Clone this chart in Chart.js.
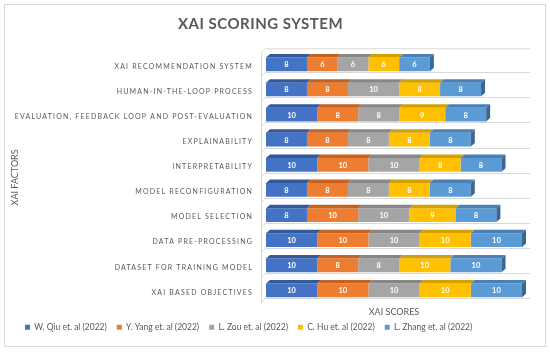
<!DOCTYPE html>
<html>
<head>
<meta charset="utf-8">
<script src="https://cdn.jsdelivr.net/npm/chart.js@4"></script>
<style>
  html, body { margin: 0; padding: 0; background: #ffffff; }
  #wrap { width: 550px; height: 352px; position: relative; }
</style>
</head>
<body>
<div id="wrap"><canvas id="c" width="550" height="352"></canvas></div>
<script>
const categories = [
  'XAI RECOMMENDATION SYSTEM',
  'HUMAN-IN-THE-LOOP PROCESS',
  'EVALUATION, FEEDBACK LOOP AND POST-EVALUATION',
  'EXPLAINABILITY',
  'INTERPRETABILITY',
  'MODEL RECONFIGURATION',
  'MODEL SELECTION',
  'DATA PRE-PROCESSING',
  'DATASET FOR TRAINING MODEL',
  'XAI BASED OBJECTIVES'
];
const seriesNames = [
  'W. Qiu et. al (2022)',
  'Y. Yang et. al (2022)',
  'L. Zou et. al (2022)',
  'C. Hu et. al (2022)',
  'L. Zhang et. al (2022)'
];
const qiu   = [8, 8, 10, 8, 10, 8, 8, 10, 10, 10];
const yang  = [6, 8, 8, 8, 10, 8, 10, 10, 8, 10];
const zou   = [6, 10, 8, 8, 10, 8, 10, 10, 8, 10];
const hu    = [6, 8, 9, 8, 8, 8, 9, 10, 10, 10];
const zhang = [6, 8, 8, 8, 8, 8, 8, 10, 10, 10];

const frontColors = ['#4472C4', '#ED7D31', '#A5A5A5', '#FFC000', '#5B9BD5'];
const topColors   = ['#34589C', '#C5621F', '#878787', '#D4A000', '#4A80B5'];
const sideColor   = '#3A6794';
const seriesData = [qiu, yang, zou, hu, zhang];

const DX = 4, DY = 3.5;
const GRID = '#D9D9D9';
const TXT = '#595959';

const frame3d = {
  id: 'frame3d',
  beforeDraw(chart) {
    const ctx = chart.ctx;
    ctx.save();
    ctx.fillStyle = '#ffffff';
    ctx.fillRect(0, 0, chart.width, chart.height);
    ctx.strokeStyle = GRID;
    ctx.lineWidth = 1;
    ctx.strokeRect(4.5, 4.5, 541, 342);
    ctx.restore();
  },
  afterLayout(chart) {
    const ys = chart.scales.y;
    if (ys && !ys._lsWrapped) {
      const orig = ys.drawLabels;
      ys.drawLabels = function (a) {
        const c = this.ctx;
        c.save();
        c.letterSpacing = '1.2px';
        orig.call(this, a);
        c.restore();
      };
      ys._lsWrapped = true;
    }
    const tb = chart.titleBlock;
    if (tb && !tb._lsWrapped) {
      const origT = tb.draw;
      tb.draw = function (a) {
        const c = this.ctx;
        c.save();
        c.letterSpacing = '0.5px';
        c.translate(-8, 0);
        origT.call(this, a);
        c.restore();
      };
      tb._lsWrapped = true;
    }
  },
  beforeDatasetsDraw(chart) {
    const ctx = chart.ctx;
    const area = chart.chartArea;
    const meta = chart.getDatasetMeta(0);
    const L = area.left - 4;
    const R = 530;
    ctx.save();
    ctx.strokeStyle = GRID;
    ctx.lineWidth = 1;
    ctx.beginPath();
    ctx.moveTo(L - 0.5, area.top + 0.5);
    ctx.lineTo(L + DX - 0.5, area.top - DY + 0.5);
    ctx.lineTo(R, area.top - DY + 0.5);
    ctx.moveTo(L - 0.5, area.top + 0.5);
    ctx.lineTo(L - 0.5, area.bottom + 0.5);
    ctx.stroke();
    meta.data.forEach((el) => {
      const yb = Math.round(el.y + el.height / 2) + 1.5;
      ctx.beginPath();
      ctx.moveTo(L - 0.5, yb + DY);
      ctx.lineTo(L + DX - 0.5, yb);
      ctx.lineTo(R, yb);
      ctx.stroke();
    });
    ctx.restore();
  },
  afterDatasetsDraw(chart) {
    const ctx = chart.ctx;
    const n = chart.data.datasets.length;
    ctx.save();
    for (let d = 0; d < n; d++) {
      const meta = chart.getDatasetMeta(d);
      meta.data.forEach((el) => {
        const x1 = Math.min(el.base, el.x), x2 = Math.max(el.base, el.x);
        const y1 = el.y - el.height / 2, y2 = el.y + el.height / 2;
        ctx.fillStyle = topColors[d];
        ctx.beginPath();
        ctx.moveTo(x1, y1);
        ctx.lineTo(x1 + DX, y1 - DY);
        ctx.lineTo(x2 + DX, y1 - DY);
        ctx.lineTo(x2, y1);
        ctx.closePath();
        ctx.fill();
        if (d === n - 1) {
          ctx.fillStyle = sideColor;
          ctx.beginPath();
          ctx.moveTo(x2, y1);
          ctx.lineTo(x2 + DX, y1 - DY);
          ctx.lineTo(x2 + DX, y2 - DY);
          ctx.lineTo(x2, y2);
          ctx.closePath();
          ctx.fill();
        }
      });
    }
    ctx.fillStyle = '#ffffff';
    ctx.font = 'bold 7.5px Lato';
    ctx.textAlign = 'center';
    ctx.textBaseline = 'middle';
    for (let d = 0; d < n; d++) {
      const meta = chart.getDatasetMeta(d);
      const vals = chart.data.datasets[d].data;
      meta.data.forEach((el, i) => {
        ctx.fillText(String(vals[i]), (el.x + el.base) / 2, el.y + 0.5);
      });
    }
    ctx.restore();
  }
};

const datasets = seriesNames.map((name, i) => ({
  label: name,
  data: seriesData[i],
  backgroundColor: frontColors[i],
  borderWidth: 0,
  barPercentage: 0.545,
  categoryPercentage: 1.0
}));

new Chart(document.getElementById('c'), {
  type: 'bar',
  data: { labels: categories, datasets },
  plugins: [frame3d],
  options: {
    indexAxis: 'y',
    responsive: false,
    animation: false,
    devicePixelRatio: 1,
    layout: { padding: { left: 15, right: 28, top: 0, bottom: 10.5 } },
    plugins: {
      title: {
        display: true,
        text: 'XAI SCORING SYSTEM',
        color: TXT,
        font: { family: 'Lato', size: 15, weight: 'bold', lineHeight: 1.2 },
        padding: { top: 15, bottom: 18.8 }
      },
      legend: {
        position: 'bottom',
        align: 'start',
        labels: {
          color: TXT,
          font: { family: 'Lato', size: 8.5 },
          boxWidth: 5,
          boxHeight: 5,
          padding: 10
        }
      },
      tooltip: { enabled: false }
    },
    scales: {
      x: {
        stacked: true,
        min: 0,
        max: 50,
        grid: { display: false, drawTicks: false },
        border: { display: false },
        ticks: { display: false },
        title: {
          display: true,
          text: 'XAI SCORES',
          color: TXT,
          font: { family: 'Lato', size: 9, lineHeight: 1.2 },
          padding: { top: 3.2, bottom: -4 }
        }
      },
      y: {
        stacked: true,
        grid: { display: false, drawTicks: false },
        border: { display: false },
        ticks: {
          color: TXT,
          font: { family: 'Lato', size: 7 },
          padding: 13,
          labelOffset: 2,
          autoSkip: false
        },
        title: {
          display: true,
          text: 'XAI FACTORS',
          color: TXT,
          font: { family: 'Lato', size: 9, lineHeight: 1.2 },
          padding: { top: -5.4, bottom: 0 }
        },
        afterFit(scale) { scale.width = 251; }
      }
    }
  }
});
</script>
</body>
</html>
